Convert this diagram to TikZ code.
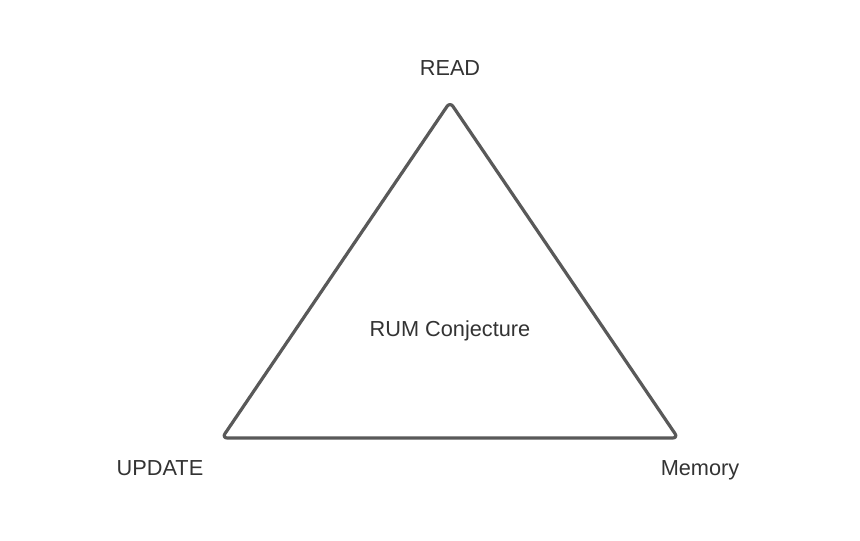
\documentclass[tikz,border=0pt]{standalone}
\usepackage{fontspec}
\setmainfont{Liberation Sans}
\definecolor{edge}{HTML}{595959}
\definecolor{txt}{HTML}{333333}
\begin{document}
\begin{tikzpicture}[x=0.75pt,y=-0.75pt,
  lbl/.style={font=\fontsize{16.3}{19}\selectfont, text=txt, inner sep=0pt, anchor=base},
  tri/.style={draw=edge, line width=2.4pt, rounded corners=4pt, line join=round}]
\useasboundingbox[fill=white] (0,0) rectangle (860,540);
\coordinate (top) at (450,102);
\coordinate (bl) at (222,438);
\coordinate (br) at (678,438);
\draw[tri] (top) -- (br) -- (bl) -- cycle;
\node[lbl] (read) at (450,75.5) {READ};
\node[lbl] (upd) at (160,475) {UPDATE};
\node[lbl] (mem) at (700,475) {Memory};
\node[lbl] (rum) at (450,336.5) {RUM Conjecture};
\end{tikzpicture}
\end{document}
